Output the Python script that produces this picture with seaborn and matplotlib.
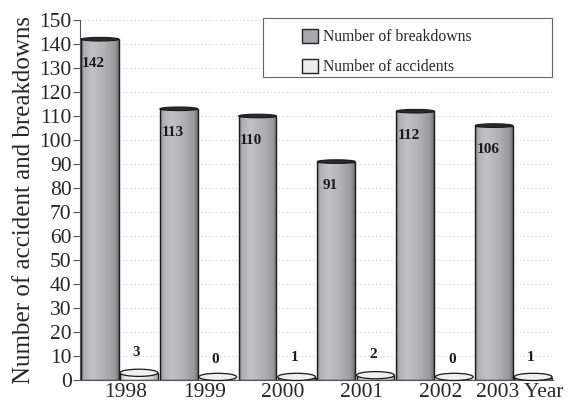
import numpy as np
import pandas as pd
import seaborn as sns
import matplotlib.pyplot as plt
from matplotlib.patches import Ellipse, Rectangle, Patch
from matplotlib.colors import LinearSegmentedColormap
from matplotlib.transforms import ScaledTranslation

years = ["1998", "1999", "2000", "2001", "2002", "2003"]
breakdowns = [142, 113, 110, 91, 112, 106]
accidents = [3, 0, 1, 2, 0, 1]
series = ["Number of breakdowns", "Number of accidents"]

df = pd.DataFrame({
    "year": years * 2,
    "count": breakdowns + accidents,
    "series": [series[0]] * len(years) + [series[1]] * len(years),
})

sns.set_theme(style="white")
plt.rcParams["font.family"] = ["Liberation Serif", "DejaVu Serif"]

fig = plt.figure(figsize=(5.74, 4.03), dpi=100)
ax = fig.add_axes([80 / 574, 1 - 380 / 403, 473 / 574, 360 / 403])

sns.barplot(data=df, x="year", y="count", hue="series", hue_order=series,
            palette=["#b4b4b8", "#e6e6e6"], width=0.99, gap=0.03,
            edgecolor="#1a1a1a", linewidth=1.0, legend=False, ax=ax)

# cylinder shading
dark_cm = LinearSegmentedColormap.from_list("cyl", [
    (0.0, "#7c7c80"), (0.08, "#b0b0b4"), (0.3, "#c2c2c6"),
    (0.6, "#b2b2b6"), (0.9, "#9a9a9e"), (1.0, "#6e6e72")])
light_cm = LinearSegmentedColormap.from_list("cyl2", [
    (0.0, "#bdbdbd"), (0.15, "#ececec"), (0.4, "#f6f6f6"),
    (0.8, "#dcdcdc"), (1.0, "#a8a8a8")])
grad = np.linspace(0, 1, 256).reshape(1, -1)

for ci, (cont, cmap) in enumerate(zip(ax.containers, [dark_cm, light_cm])):
    for bar in cont:
        x0, w, h = bar.get_x(), bar.get_width(), bar.get_height()
        if h > 0:
            im = ax.imshow(grad, extent=[x0, x0 + w, 0, h], aspect="auto",
                           cmap=cmap, zorder=bar.get_zorder() - 0.1)
            im.set_clip_path(bar)
            bar.set_facecolor("none")
        if ci == 0:
            ax.add_patch(Ellipse((x0 + w / 2, h), w, 1.5, facecolor="#2a2a2a",
                                 edgecolor="#1a1a1a", lw=0.8, zorder=4, clip_on=False))
        else:
            ax.add_patch(Ellipse((x0 + w / 2, max(h, 1.3)), w, 3.0, facecolor="#f0f0f0",
                                 edgecolor="#1a1a1a", lw=0.9, zorder=4, clip_on=False))

# value labels
for bar, v in zip(ax.containers[0], breakdowns):
    ax.text(bar.get_x() + bar.get_width() / 2 - 0.08, v - 10, str(v),
            ha="center", va="center", fontsize=11, fontweight="bold",
            color="#1a1a1a", zorder=5)
for bar, v in zip(ax.containers[1], accidents):
    ax.text(bar.get_x() + bar.get_width() / 2 - 0.03, v + 8.5, str(v),
            ha="center", va="center", fontsize=11, fontweight="bold",
            color="#1a1a1a", zorder=5)

ax.set_xlim(-0.5, 5.5)
ax.set_ylim(0, 150)
ax.set_yticks(range(0, 151, 10))
ax.yaxis.grid(True, color="#c4c4c4", linestyle=(0, (1, 3)), linewidth=0.7)
ax.set_axisbelow(True)

ax.set_xticks(range(len(years)))
ax.set_xticklabels(years[:-1] + ["2003 Year"])
ax.set_xticks(np.arange(-0.5, 6, 1), minor=True)
ax.tick_params(axis="x", which="major", length=0, pad=2, labelsize=15.5)
ax.tick_params(axis="x", which="minor", length=5, width=0.8, color="#555555", direction="out")
ax.tick_params(axis="y", length=5, width=0.8, color="#555555", direction="out",
               labelsize=15.5, pad=1, left=True)
for lbl in ax.get_xticklabels():
    lbl.set_transform(lbl.get_transform() + ScaledTranslation(6 / 100, 0, fig.dpi_scale_trans))

ax.set_xlabel("")
ax.set_ylabel("Number of accident and breakdowns", fontsize=18, labelpad=3)

for s in ["top", "right"]:
    ax.spines[s].set_visible(False)
for s in ["left", "bottom"]:
    ax.spines[s].set_color("#555555")
    ax.spines[s].set_linewidth(0.8)

# legend box
ax.add_patch(Rectangle((0.387, 0.842), 0.611, 0.164, transform=ax.transAxes,
                       facecolor="white", edgecolor="#666666", lw=0.8,
                       zorder=6, clip_on=False))
handles = [Patch(facecolor="#a8a8ac", edgecolor="#222222", lw=1.0),
           Patch(facecolor="#ececec", edgecolor="#222222", lw=1.0)]
leg = ax.legend(handles, series, loc="upper left", bbox_to_anchor=(0.469, 0.975),
                frameon=False, fontsize=11.3, handlelength=1.0, handleheight=1.0,
                handletextpad=0.35, labelspacing=0.85, borderpad=0, borderaxespad=0)
leg.set_zorder(7)

fig.savefig("out.png", dpi=100)
